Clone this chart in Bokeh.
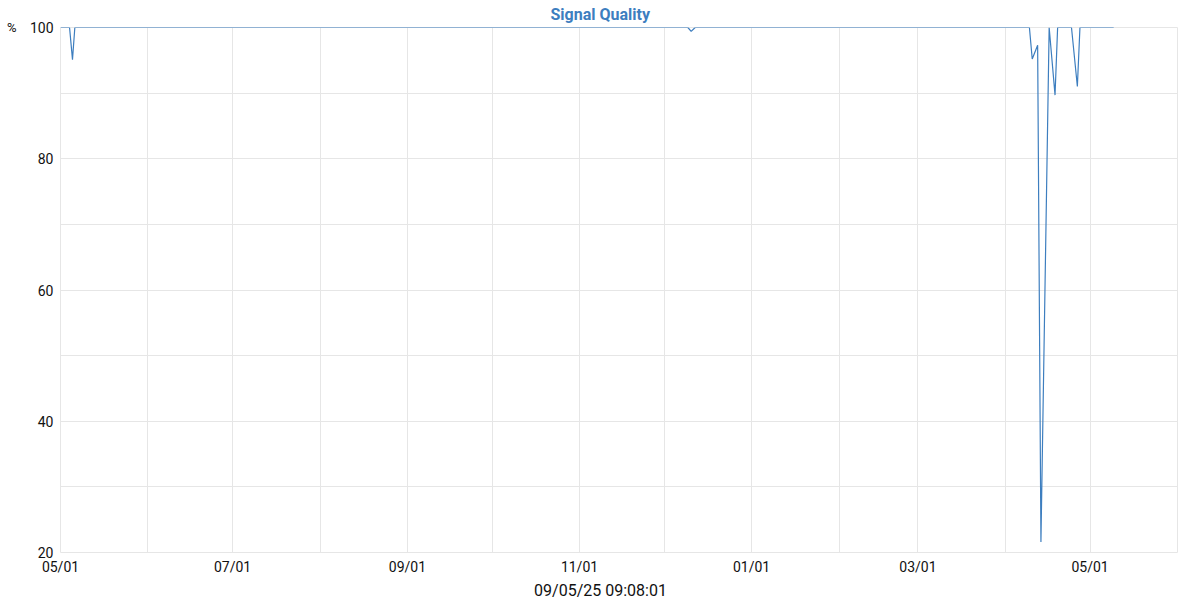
import pandas as pd
from bokeh.plotting import figure
from bokeh.models import (ColumnDataSource, FixedTicker, SingleIntervalTicker,
                          DatetimeTickFormatter, Range1d, Title, LinearAxis)
from bokeh.embed import file_html
from bokeh.resources import INLINE

# ---- data ----
times = [
    "2024-05-01 00:00", "2024-05-04 05:00", "2024-05-05 06:00", "2024-05-06 02:00",
    "2024-12-09 10:00", "2024-12-10 14:00", "2024-12-12 00:00",
    "2025-04-09 12:00", "2025-04-10 12:00", "2025-04-12 10:00", "2025-04-13 14:00",
    "2025-04-16 12:00", "2025-04-18 14:00", "2025-04-19 12:00", "2025-04-24 10:00",
    "2025-04-26 12:00", "2025-04-27 10:00", "2025-05-09 09:08",
]
quality = [
    100, 100, 95.1, 100,
    100, 99.4, 100,
    100, 95.2, 97.3, 21.6,
    100, 89.7, 100, 100,
    91.0, 100, 100,
]
label_months = ["2024-05-01", "2024-07-01", "2024-09-01", "2024-11-01",
                "2025-01-01", "2025-03-01", "2025-05-01"]
grid_months = ["2024-06-01", "2024-08-01", "2024-10-01", "2024-12-01",
               "2025-02-01", "2025-04-01", "2025-06-01"]
x_start, x_end = "2024-05-01", "2025-06-01"
y_start, y_end = 20, 100
title_text = "Signal Quality"
unit_text = "%"
timestamp_text = "09/05/25 09:08:01"

BLUE = "#3d7ebf"
GRID = "#e6e6e6"
FONT = "Roboto"
TXT = "#111111"
FW, FH = 1117, 525


def ms(s):
    return pd.Timestamp(s).value / 1e6


src = ColumnDataSource(dict(t=pd.to_datetime(times), q=quality))

x0, x1 = ms(x_start), ms(x_end)
p = figure(frame_width=FW, frame_height=FH, x_axis_type="datetime",
           output_backend="svg", toolbar_location=None,
           min_border_left=60, min_border_top=27, min_border_right=23,
           min_border_bottom=48,
           x_range=Range1d(x0, x1),
           y_range=Range1d(y_start, y_end))
p.background_fill_color = "white"
p.border_fill_color = "white"
p.outline_line_color = GRID

p.title = Title(text=title_text, align="left", offset=490,
                vertical_align="middle", text_font=FONT,
                text_font_size="16px", text_font_style="bold",
                text_color=BLUE, standoff=6)

p.line("t", "q", source=src, line_color=BLUE, line_width=1.2)

# x axis
p.xaxis.ticker = FixedTicker(ticks=[ms(m) for m in label_months],
                             minor_ticks=[ms(m) for m in grid_months])
fmt = "%m/%d"
p.xaxis.formatter = DatetimeTickFormatter(days=fmt, months=fmt, years=fmt,
                                          hours=fmt, minutes=fmt)
p.xaxis.major_label_standoff = 6

# y axis
p.yaxis.ticker = SingleIntervalTicker(interval=20, num_minor_ticks=2)
p.yaxis.major_label_standoff = 7

# pixel helper ranges for the timestamp (below) and the unit label (left, top)
p.extra_x_ranges = {"px": Range1d(0, FW)}
p.extra_y_ranges = {"py": Range1d(0, FH)}

ts_pos = 540
ta = LinearAxis(x_range_name="px", ticker=FixedTicker(ticks=[ts_pos]),
                major_label_overrides={ts_pos: timestamp_text},
                major_label_standoff=3)
ta.major_label_text_font_size = "16px"
ta.major_label_text_line_height = 1.0
p.add_layout(ta, "below")

unit_pos = FH
ua = LinearAxis(y_range_name="py", ticker=FixedTicker(ticks=[unit_pos]),
                major_label_overrides={unit_pos: unit_text},
                major_label_standoff=10)
ua.major_label_text_font_size = "13px"
p.add_layout(ua, "left")

for ax in (p.xaxis[0], p.yaxis[0], ta, ua):
    ax.axis_line_color = None
    ax.major_tick_line_color = None
    ax.minor_tick_line_color = None
    ax.major_tick_out = 0
    ax.minor_tick_out = 0
    ax.major_tick_in = 0
    ax.minor_tick_in = 0
    ax.major_label_text_font = FONT
    ax.major_label_text_color = TXT
p.xaxis[0].major_label_text_font_size = "14px"
p.yaxis[0].major_label_text_font_size = "14px"

for g in (p.xgrid[0], p.ygrid[0]):
    g.grid_line_color = GRID
    g.minor_grid_line_color = GRID

open("out.html", "w").write(file_html(p, INLINE))
